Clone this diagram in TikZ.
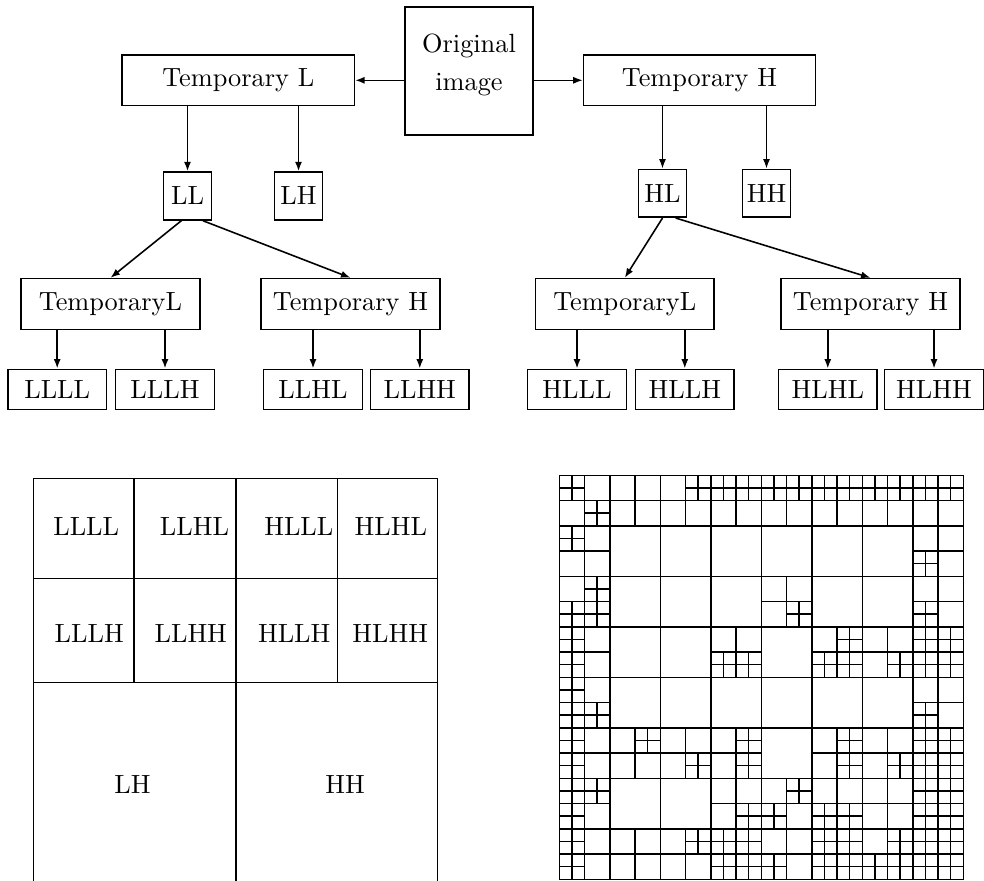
\documentclass[tikz,border=0pt]{standalone}
\usetikzlibrary{arrows.meta}

\begin{document}
\begin{tikzpicture}[
  x=0.38pt, y=-0.38pt, line width=0.6pt,
  >={Latex[length=3.6pt,width=2.7pt]},
  bigbox/.style={draw, minimum width=88.2pt, minimum height=19.3pt},
  midbox/.style={draw, minimum width=68pt, minimum height=19.3pt, inner xsep=1pt},
  smallbox/.style={draw, minimum size=18.2pt, inner sep=1pt},
  leafbox/.style={draw, minimum width=37.6pt, minimum height=15.2pt},
  band/.style={inner sep=0pt},
]
  \useasboundingbox (0,0) rectangle (984,881);

  \node[draw, minimum size=48.8pt] (orig) at (469,71) {};
  \node[align=center] (origtext) at (469,65) {Original\\[2.3pt]image};
  \node[bigbox] (tmpL) at (238.3,80.3) {Temporary L};
  \node[bigbox] (tmpH) at (699.5,80.3) {Temporary H};
  \node[smallbox] (ll) at (187.5,196) {LL};
  \node[smallbox] (lh) at (298.5,196) {LH};
  \node[smallbox] (hl) at (662.5,193.3) {HL};
  \node[smallbox] (hh) at (766.5,193.3) {HH};
  \node[midbox] (tmpLL) at (110.5,304) {TemporaryL};
  \node[midbox] (tmpLH) at (350.5,304) {Temporary H};
  \node[midbox] (tmpHL) at (624.8,304) {TemporaryL};
  \node[midbox] (tmpHH) at (870.5,304) {Temporary H};
  \node[leafbox] (llll) at (57.2,389.3) {LLLL};
  \node[leafbox] (lllh) at (165,389.3) {LLLH};
  \node[leafbox] (llhl) at (313,389.3) {LLHL};
  \node[leafbox] (llhh) at (419.8,389.3) {LLHH};
  \node[leafbox] (hlll) at (577,389.3) {HLLL};
  \node[leafbox] (hllh) at (684.8,389.3) {HLLH};
  \node[leafbox] (hlhl) at (827.8,389.3) {HLHL};
  \node[leafbox] (hlhh) at (934,389.3) {HLHH};

  \draw[->] (orig.west |- tmpL.east) -- (tmpL.east);
  \draw[->] (orig.east |- tmpH.west) -- (tmpH.west);
  \foreach \p/\c in {tmpL/ll, tmpL/lh, tmpH/hl, tmpH/hh,
      tmpLL/llll, tmpLL/lllh, tmpLH/llhl, tmpLH/llhh,
      tmpHL/hlll, tmpHL/hllh, tmpHH/hlhl, tmpHH/hlhh}
    \draw[->] (\p.south -| \c.north) -- (\c.north);
  \draw[->] (ll.-104) -- (tmpLL.north);
  \draw[->] (ll.-58) -- (tmpLH.north);
  \draw[->] (hl.south) -- (tmpHL.north);
  \draw[->] (hl.-62) -- (tmpHH.north);

  % subband layout
  \draw (33.3,881) -- (33.3,478.3) -- (437.7,478.3) -- (437.7,881);
  \draw (33.3,578.3) -- (437.7,578.3) (33.3,682.3) -- (437.7,682.3);
  \draw (134,478.3) -- (134,682.3) (337.7,478.3) -- (337.7,682.3) (236,478.3) -- (236,881);
  \node[band] (gLLLL) at (86.2,526.7) {LLLL};
  \node[band] (gLLHL) at (194.5,526.7) {LLHL};
  \node[band] (gHLLL) at (298.8,526.7) {HLLL};
  \node[band] (gHLHL) at (390.8,526.7) {HLHL};
  \node[band] (gLLLH) at (89.2,633.3) {LLLH};
  \node[band] (gLLHH) at (190.8,633.3) {LLHH};
  \node[band] (gHLLH) at (294.2,633.3) {HLLH};
  \node[band] (gHLHH) at (390.3,633.3) {HLHH};
  \node[band] (gLH) at (132.5,785) {LH};
  \node[band] (gHH) at (345,785) {HH};

  % quadtree
  \begin{scope}[shift={(559.3,475.3)}, x=9.595pt, y=-9.595pt]
    \draw (0,0) rectangle (16,16);
    \foreach \i in {2,4,...,14}
      \draw (\i,0) -- (\i,16) (0,\i) -- (16,\i);
    \foreach \bx/\by in {0/0,1/0,2/0,3/0,4/0,5/0,6/0,7/0, 0/1,7/1, 0/2,4/2,7/2,
        0/3,3/3,5/3,6/3,7/3, 0/4,7/4, 0/5,1/5,2/5,3/5,5/5,6/5,7/5,
        0/6,3/6,4/6,5/6,6/6,7/6, 0/7,1/7,2/7,3/7,4/7,5/7,6/7,7/7}
      \draw ({2*\bx+1},{2*\by}) -- ++(0,2) ({2*\bx},{2*\by+1}) -- ++(2,0);
    \foreach \c/\r in {0/0,5/0,6/0,7/0,8/0,9/0,10/0,11/0,12/0,13/0,14/0,15/0,
        1/1, 0/2, 14/3, 1/4, 0/5,1/5,9/5,14/5, 0/6,11/6,14/6,15/6,
        0/7,6/7,7/7,10/7,11/7,13/7,14/7,15/7, 0/8, 0/9,1/9,14/9,
        0/10,3/10,7/10,11/10,14/10,15/10, 0/11,5/11,7/11,11/11,13/11,14/11,15/11,
        0/12,1/12,9/12,14/12,15/12, 0/13,7/13,8/13,10/13,11/13,14/13,15/13,
        0/14,5/14,6/14,7/14,10/14,11/14,13/14,14/14,15/14,
        0/15,6/15,7/15,8/15,10/15,11/15,12/15,13/15,14/15,15/15}
      \draw ({\c+.5},\r) -- ++(0,1) (\c,{\r+.5}) -- ++(1,0);
  \end{scope}
\end{tikzpicture}
\end{document}
